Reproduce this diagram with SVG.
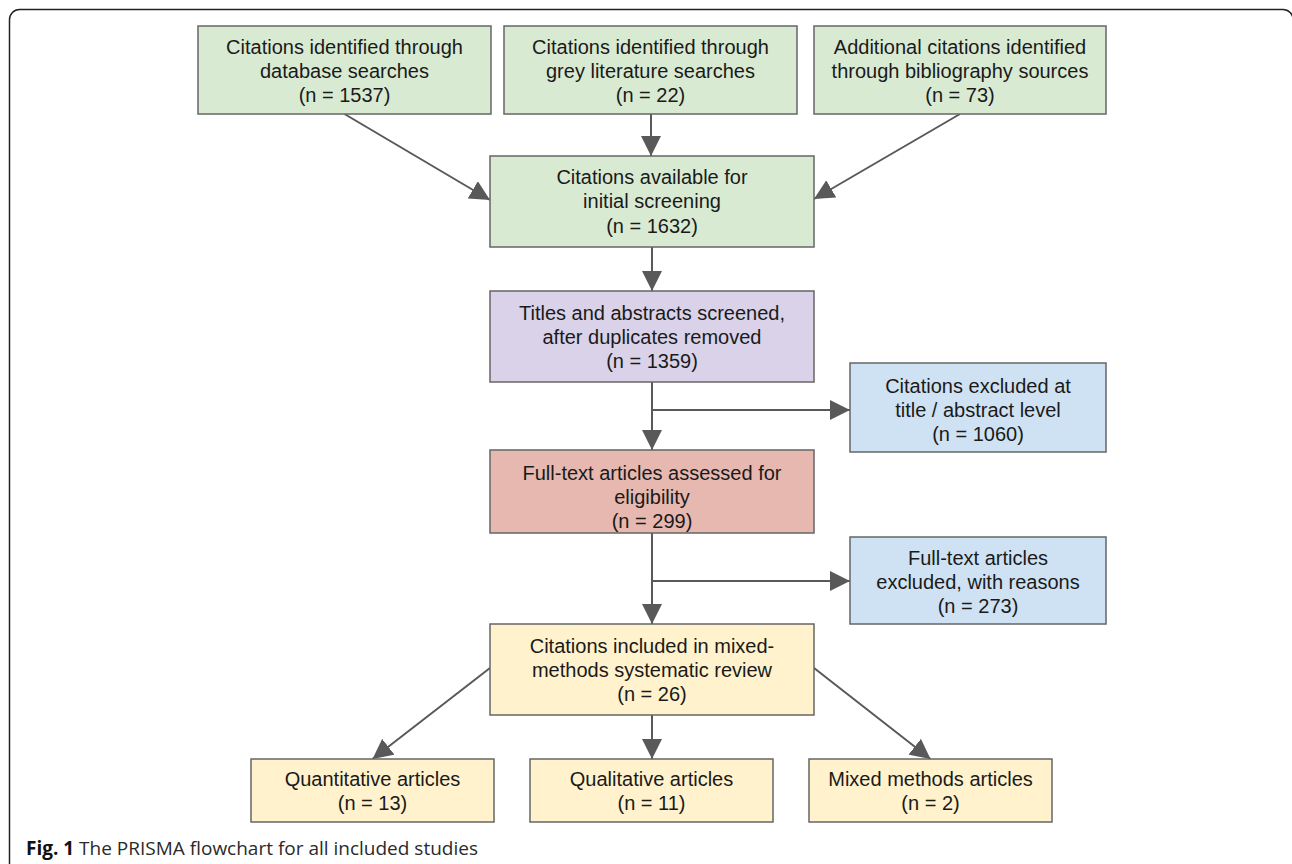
<svg xmlns="http://www.w3.org/2000/svg" width="1292" height="864" viewBox="0 0 1292 864">
<style>
.box{stroke:#666666;stroke-width:1.5}
.g{fill:#d9ead3}.p{fill:#d9d2e9}.r{fill:#e6b8af}.b{fill:#cfe2f3}.y{fill:#fff2cc}
.t{font-family:"Liberation Sans",Arial,Helvetica,sans-serif;font-size:20px;fill:#1a1a1a;text-anchor:middle}
.c{stroke:#595959;stroke-width:2;fill:none}
.cap{font-family:"Open Sans","Noto Sans",sans-serif;font-size:19px;fill:#2a2a2a}
</style>
<defs>
<marker id="ah" viewBox="0 0 20 20" refX="20" refY="10" markerWidth="20" markerHeight="20" markerUnits="userSpaceOnUse" orient="auto">
<path d="M0,0 L20,10 L0,20 z" fill="#595959"/>
</marker>
</defs>
<rect width="1292" height="864" fill="#ffffff"/>
<path d="M9.5 864 V19.5 A10 10 0 0 1 19.5 9.5 H1283 A10 10 0 0 1 1293 19.5 V864" fill="none" stroke="#222222" stroke-width="1.5"/>
<g id="connectors">
<path class="c" d="M344.5 114 L490 200" marker-end="url(#ah)"/>
<path class="c" d="M651 114 L651 156" marker-end="url(#ah)"/>
<path class="c" d="M960 114 L814 199" marker-end="url(#ah)"/>
<path class="c" d="M652 247 L652 291" marker-end="url(#ah)"/>
<path class="c" d="M652 382 L652 450" marker-end="url(#ah)"/>
<path class="c" d="M652 410 L850 410" marker-end="url(#ah)"/>
<path class="c" d="M652 533 L652 624" marker-end="url(#ah)"/>
<path class="c" d="M652 581 L850 581" marker-end="url(#ah)"/>
<path class="c" d="M490 668 L372.5 759" marker-end="url(#ah)"/>
<path class="c" d="M652 715 L652 759" marker-end="url(#ah)"/>
<path class="c" d="M814 668 L930.5 759" marker-end="url(#ah)"/>
</g>
<g id="db">
<rect class="box g" x="198" y="26" width="293" height="88"/>
<text class="t" x="344.5" y="54">Citations identified through</text>
<text class="t" x="344.5" y="78">database searches</text>
<text class="t" x="344.5" y="102">(n = 1537)</text>
</g>
<g id="grey">
<rect class="box g" x="504" y="26" width="293" height="88"/>
<text class="t" x="650.5" y="54">Citations identified through</text>
<text class="t" x="650.5" y="78">grey literature searches</text>
<text class="t" x="650.5" y="102">(n = 22)</text>
</g>
<g id="biblio">
<rect class="box g" x="814" y="26" width="292" height="88"/>
<text class="t" x="960" y="54">Additional citations identified</text>
<text class="t" x="960" y="78">through bibliography sources</text>
<text class="t" x="960" y="102">(n = 73)</text>
</g>
<g id="available">
<rect class="box g" x="490" y="156" width="324" height="91"/>
<text class="t" x="652" y="184">Citations available for</text>
<text class="t" x="652" y="208">initial screening</text>
<text class="t" x="652" y="233">(n = 1632)</text>
</g>
<g id="screened">
<rect class="box p" x="490" y="291" width="324" height="91"/>
<text class="t" x="652" y="320">Titles and abstracts screened,</text>
<text class="t" x="652" y="344">after duplicates removed</text>
<text class="t" x="652" y="368">(n = 1359)</text>
</g>
<g id="excluded1">
<rect class="box b" x="850" y="363" width="256" height="89"/>
<text class="t" x="978" y="393">Citations excluded at</text>
<text class="t" x="978" y="417">title / abstract level</text>
<text class="t" x="978" y="441">(n = 1060)</text>
</g>
<g id="fulltext">
<rect class="box r" x="490" y="450" width="324" height="83"/>
<text class="t" x="652" y="480">Full-text articles assessed for</text>
<text class="t" x="652" y="504">eligibility</text>
<text class="t" x="652" y="528">(n = 299)</text>
</g>
<g id="excluded2">
<rect class="box b" x="850" y="537" width="256" height="87"/>
<text class="t" x="978" y="565">Full-text articles</text>
<text class="t" x="978" y="589">excluded, with reasons</text>
<text class="t" x="978" y="613">(n = 273)</text>
</g>
<g id="included">
<rect class="box y" x="490" y="624" width="324" height="91"/>
<text class="t" x="652" y="653">Citations included in mixed-</text>
<text class="t" x="652" y="677">methods systematic review</text>
<text class="t" x="652" y="701">(n = 26)</text>
</g>
<g id="quant">
<rect class="box y" x="251" y="759" width="243" height="63"/>
<text class="t" x="372.5" y="786">Quantitative articles</text>
<text class="t" x="372.5" y="810">(n = 13)</text>
</g>
<g id="qual">
<rect class="box y" x="530" y="759" width="243" height="63"/>
<text class="t" x="651.5" y="786">Qualitative articles</text>
<text class="t" x="651.5" y="810">(n = 11)</text>
</g>
<g id="mixed">
<rect class="box y" x="809" y="759" width="243" height="63"/>
<text class="t" x="930.5" y="786">Mixed methods articles</text>
<text class="t" x="930.5" y="810">(n = 2)</text>
</g>
<text class="cap" x="26" y="855"><tspan font-weight="bold" fill="#111111">Fig. 1</tspan> The PRISMA flowchart for all included studies</text>
</svg>
